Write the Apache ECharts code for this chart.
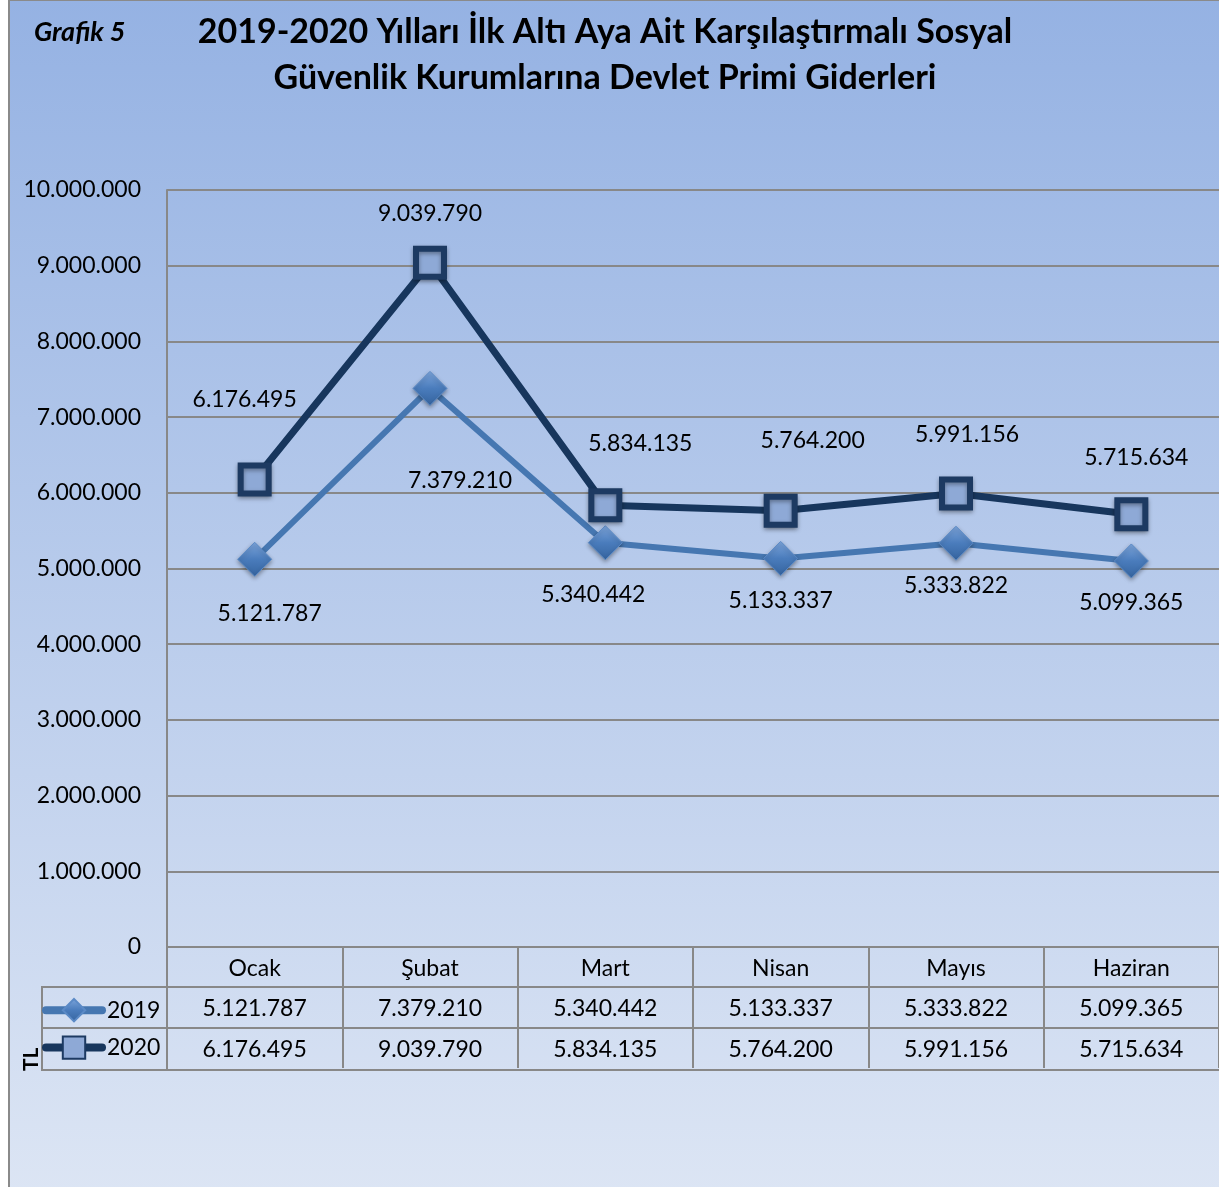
<!DOCTYPE html>
<html>
<head>
<meta charset="utf-8">
<script src="https://cdn.jsdelivr.net/npm/echarts@6/dist/echarts.min.js"></script>
<style>
    html, body {margin: 0; padding: 0; background: #ffffff;}
    #chart {width: 1219px; height: 1187px;}
</style>
</head>
<body>
<div id="chart"></div>
<script>
//  aylar
const months = ['Ocak', 'Şubat', 'Mart', 'Nisan', 'Mayıs', 'Haziran'];
//  2019 değerleri (TL)
const values2019 = [5121787, 7379210, 5340442, 5133337, 5333822, 5099365];
//  2020 değerleri (TL)
const values2020 = [6176495, 9039790, 5834135, 5764200, 5991156, 5715634];
//  y ekseni
const yMin = 0;
const yMax = 10000000;
const yStep = 1000000;

//  etiket kaydırmaları (nokta merkezine göre)
const labelShift2019 = [[15, 54], [30, 92], [-12, 52], [0, 42], [0, 42], [0, 42]];
const labelShift2020 = [[-10, -80], [0, -49], [35, -62], [32, -70], [11, -59], [5, -57]];

const FONT = 'Lato';
const GRAY = '#888888';

//  binlik ayraç nokta
const fmt = function (v) {
    return String(v).replace(/\B(?=(\d{3})+(?!\d))/g, '.');
};

const pointData = function (values, shifts) {
    return values.map(function (v, i) {
        return {value: v, label: {offset: shifts[i]}};
    });
};

//  tablo satırları için ek kategori eksenleri
const tableAxis = function (offset, formatter, showLabel) {
    return {
        type: 'category',
        gridIndex: 0,
        position: 'bottom',
        offset: offset,
        data: months,
        axisLine: {show: true, lineStyle: {color: GRAY, width: 2}},
        axisTick: {show: showLabel, length: 40, lineStyle: {color: GRAY, width: 2}},
        axisLabel: {
            show: showLabel,
            margin: 10,
            color: '#000000',
            fontFamily: FONT,
            fontSize: 23,
            formatter: formatter,
        },
        splitLine: {show: false},
    };
};

const option = {
    animation: false,
    backgroundColor: '#ffffff',
    textStyle: {fontFamily: FONT},
    title: [
        {
            text: '2019-2020 Yılları İlk Altı Aya Ait Karşılaştırmalı Sosyal\nGüvenlik Kurumlarına Devlet Primi Giderleri',
            left: 600,
            top: 4,
            textAlign: 'center',
            textStyle: {
                fontFamily: FONT,
                fontWeight: 'bold',
                fontSize: 34,
                lineHeight: 46,
                color: '#000000',
            },
        },
        {
            text: 'Grafik 5',
            left: 29,
            top: 14,
            textStyle: {
                fontFamily: FONT,
                fontWeight: 'bold',
                fontStyle: 'italic',
                fontSize: 27,
                color: '#000000',
            },
        },
    ],
    grid: {
        left: 167,
        right: 0,
        top: 190,
        bottom: 240,
    },
    legend: {
        data: [
            {name: '2019', lineStyle: {width: 8, cap: 'round'}},
            {name: '2020', lineStyle: {width: 8, cap: 'round'}},
        ],
        orient: 'vertical',
        left: 42,
        top: 998,
        padding: 0,
        itemWidth: 56,
        itemHeight: 28,
        itemGap: 13,
        selectedMode: false,
        textStyle: {fontFamily: FONT, fontSize: 23, color: '#000000'},
    },
    xAxis: [
        {
            type: 'category',
            data: months,
            position: 'bottom',
            boundaryGap: true,
            axisLine: {lineStyle: {color: GRAY, width: 2}},
            axisTick: {show: true, length: 40, lineStyle: {color: GRAY, width: 2}},
            axisLabel: {
                margin: 10,
                color: '#000000',
                fontFamily: FONT,
                fontSize: 23,
            },
            splitLine: {show: false},
        },
        tableAxis(40, function (v, i) { return fmt(values2019[i]); }, true),
        tableAxis(81, function (v, i) { return fmt(values2020[i]); }, true),
        tableAxis(123, null, false),
    ],
    yAxis: {
        type: 'value',
        min: yMin,
        max: yMax,
        interval: yStep,
        axisLine: {show: true, lineStyle: {color: GRAY, width: 2}},
        axisTick: {show: false},
        axisLabel: {
            margin: 26,
            color: '#000000',
            fontFamily: FONT,
            fontSize: 23,
            formatter: fmt,
        },
        splitLine: {lineStyle: {color: GRAY, width: 2}},
    },
    series: [
        {
            name: '2019',
            type: 'line',
            xAxisIndex: 0,
            data: pointData(values2019, labelShift2019),
            symbol: 'diamond',
            symbolSize: 34,
            z: 3,
            lineStyle: {color: '#4677b1', width: 6},
            itemStyle: {
                color: new echarts.graphic.LinearGradient(0, 0, 0, 1, [
                    {offset: 0, color: '#7ea6dc'},
                    {offset: 0.5, color: '#4a7cbc'},
                    {offset: 1, color: '#35649f'},
                ]),
                borderColor: '#5b8ac6',
                borderWidth: 1,
                shadowColor: 'rgba(0,0,0,0.35)',
                shadowBlur: 4,
                shadowOffsetY: 2,
            },
            label: {
                show: true,
                position: 'inside',
                color: '#000000',
                fontFamily: FONT,
                fontSize: 23,
                formatter: function (p) { return fmt(p.value); },
            },
        },
        {
            name: '2020',
            type: 'line',
            xAxisIndex: 0,
            data: pointData(values2020, labelShift2020),
            symbol: 'rect',
            symbolSize: 28,
            z: 4,
            lineStyle: {color: '#17365d', width: 7},
            itemStyle: {
                color: '#8ea9d6',
                borderColor: '#1d3a62',
                borderWidth: 6,
                shadowColor: 'rgba(0,0,0,0.35)',
                shadowBlur: 4,
                shadowOffsetY: 2,
            },
            label: {
                show: true,
                position: 'inside',
                color: '#000000',
                fontFamily: FONT,
                fontSize: 23,
                formatter: function (p) { return fmt(p.value); },
            },
        },
    ],
    graphic: [
        {
            type: 'rect',
            z: -100,
            silent: true,
            shape: {x: 9, y: 0, width: 1216, height: 1192},
            style: {
                fill: new echarts.graphic.LinearGradient(0, 0, 0, 1, [
                    {offset: 0, color: '#95b2e3'},
                    {offset: 1, color: '#dce5f4'},
                ]),
                stroke: '#8a8a8a',
                lineWidth: 2,
            },
        },
        //  gösterge sütunu
        {
            type: 'rect',
            z: 1,
            silent: true,
            shape: {x: 42, y: 987, width: 125, height: 83},
            style: {fill: 'none', stroke: GRAY, lineWidth: 2},
        },
        {
            type: 'line',
            z: 1,
            silent: true,
            shape: {x1: 42, y1: 1028, x2: 167, y2: 1028},
            style: {stroke: GRAY, lineWidth: 2},
        },
        {
            type: 'text',
            z: 1,
            silent: true,
            x: 21,
            y: 1071,
            rotation: Math.PI / 2,
            style: {
                text: 'TL',
                fontFamily: FONT,
                fontWeight: 'bold',
                fontSize: 21,
                fill: '#000000',
            },
        },
    ],
};

const myChart = echarts.init(document.getElementById('chart'));
myChart.setOption(option);
</script>
</body>
</html>
